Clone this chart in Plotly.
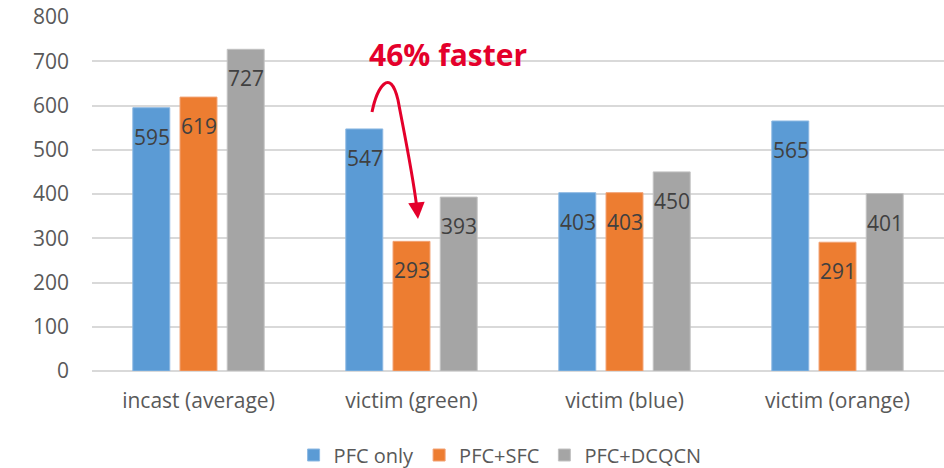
import plotly.graph_objects as go

# Completion times per scenario, grouped by flow-control setup
categories = ["incast (average)", "victim (green)", "victim (blue)", "victim (orange)"]
series_names = ["PFC only", "PFC+SFC", "PFC+DCQCN"]
pfc_only = [595, 547, 403, 565]
pfc_sfc = [619, 293, 403, 291]
pfc_dcqcn = [727, 393, 450, 401]

series_values = [pfc_only, pfc_sfc, pfc_dcqcn]
colors = ["#5B9BD5", "#ED7D31", "#A5A5A5"]
edge_colors = ["#8DB9E3", "#F2A274", "#C2C2C2"]
label_shift = [-47, 0, 47]

FONT = "Open Sans"

fig = go.Figure()
for name, vals, col, edge in zip(series_names, series_values, colors, edge_colors):
    fig.add_trace(go.Bar(
        x=categories, y=vals, name=name,
        marker=dict(color=col, line=dict(color=edge, width=1)),
    ))

# value labels sitting just under each bar's top
annotations = []
for vals, dx in zip(series_values, label_shift):
    for cat, v in zip(categories, vals):
        annotations.append(dict(
            x=cat, y=v, xref="x", yref="y", text=str(v), showarrow=False,
            xshift=dx, yshift=-29, yanchor="middle", xanchor="center",
            font=dict(family=FONT, size=21, color="#404040"),
        ))

red = "#E4002B"
annotations.append(dict(
    x=0.418, y=716, xref="paper", yref="y", text="<b>46% faster</b>",
    showarrow=False, xanchor="center", yanchor="middle",
    font=dict(family=FONT, size=30, color=red),
))

# helpers converting plot-area pixel offsets into paper / data coordinates
def px_x(p):
    return (p - 92) / 852


def px_y(p):
    return (371 - p) / 0.4425


# arrow head at the end of the curved pointer
annotations.append(dict(
    x=px_x(418), y=px_y(219), xref="paper", yref="y",
    ax=-1.5, ay=-16, axref="pixel", ayref="pixel",
    text="", showarrow=True, arrowhead=2, arrowsize=1.1, arrowwidth=3,
    arrowcolor=red,
))

pts = [(372, 112), (377, 88), (390, 66), (398, 100), (404, 132), (412, 170), (416.5, 205)]
path = "M {} {} C {} {}, {} {}, {} {} C {} {}, {} {}, {} {}".format(
    *[v for p in pts for v in (px_x(p[0]), px_y(p[1]))]
)

fig.update_layout(
    width=944, height=468,
    margin=dict(l=92, r=0, t=17, b=97),
    paper_bgcolor="white", plot_bgcolor="white",
    barmode="group", bargap=0.335, bargroupgap=0.217,
    font=dict(family=FONT, size=20, color="#595959"),
    annotations=annotations,
    shapes=[dict(type="path", path=path, xref="paper", yref="y",
                 line=dict(color=red, width=3), fillcolor="rgba(0,0,0,0)")],
    showlegend=True,
    legend=dict(orientation="h", x=0.479, xanchor="center",
                y=13 / 468, yref="container", yanchor="middle",
                font=dict(family=FONT, size=20, color="#595959"),
                itemclick=False),
    xaxis=dict(showgrid=False, showline=False, ticks="", ticklabelstandoff=15,
               automargin=False,
               tickfont=dict(family=FONT, size=21, color="#595959")),
    yaxis=dict(range=[0, 800], dtick=100, showgrid=True, gridcolor="#D9D9D9", gridwidth=1.5,
               zeroline=True, zerolinecolor="#D9D9D9", zerolinewidth=1.5,
               showline=False, ticks="", ticklabelstandoff=22, automargin=False,
               tickfont=dict(family=FONT, size=21, color="#595959")),
)

fig.write_html("out.html")
